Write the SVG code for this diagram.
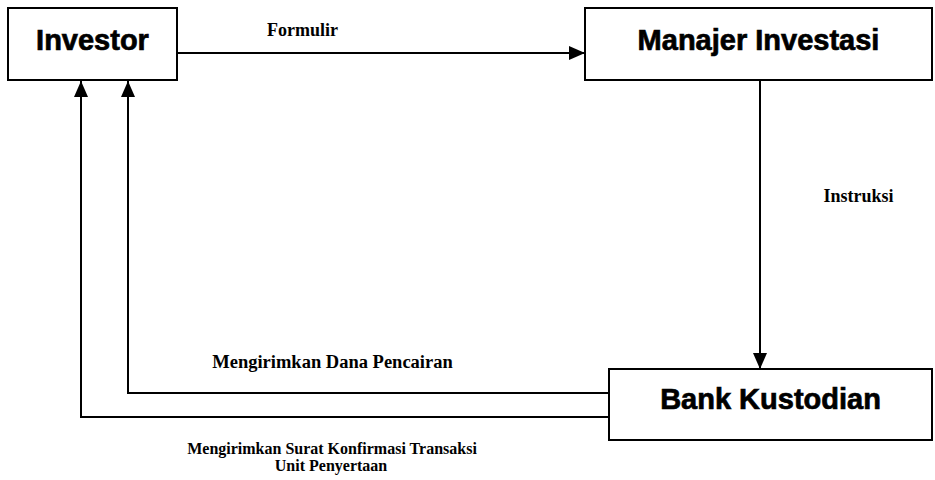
<svg xmlns="http://www.w3.org/2000/svg" width="935" height="480" viewBox="0 0 935 480">
<style>
.box{fill:#fff;stroke:#000;stroke-width:2}
.nt{font-family:"Liberation Sans",Arial,sans-serif;font-weight:bold;font-size:29px;text-anchor:middle;fill:#000;stroke:#000;stroke-width:0.7}
.lb{font-family:"Liberation Serif","Times New Roman",serif;font-weight:bold;fill:#000}
.ln{fill:none;stroke:#000;stroke-width:2}
</style>
<defs>
<marker id="ah" viewBox="0 0 16 14" refX="16" refY="7" markerWidth="16" markerHeight="14" markerUnits="userSpaceOnUse" orient="auto">
<path d="M0,0 L16,7 L0,14 Z" fill="#000"/>
</marker>
</defs>
<rect width="935" height="480" fill="#fff"/>
<g id="connectors">
<line class="ln" x1="177" y1="53" x2="585" y2="53" marker-end="url(#ah)"/>
<line class="ln" x1="760" y1="81" x2="760" y2="369" marker-end="url(#ah)"/>
<polyline class="ln" points="609,393 128,393 128,81" marker-end="url(#ah)"/>
<polyline class="ln" points="609,417 81,417 81,81" marker-end="url(#ah)"/>
</g>
<g id="labels">
<text class="lb" x="302.5" y="36" font-size="18" text-anchor="middle">Formulir</text>
<text class="lb" x="858.5" y="202" font-size="18" text-anchor="middle">Instruksi</text>
<text class="lb" x="332.5" y="368" font-size="18.5" text-anchor="middle">Mengirimkan Dana Pencairan</text>
<text class="lb" x="332" y="454" font-size="16" text-anchor="middle">Mengirimkan Surat Konfirmasi Transaksi</text>
<text class="lb" x="331" y="471" font-size="16" text-anchor="middle">Unit Penyertaan</text>
</g>
<g id="investor">
<rect class="box" x="8" y="8" width="169" height="72"/>
<text class="nt" x="92.5" y="50">Investor</text>
</g>
<g id="manajer-investasi">
<rect class="box" x="585" y="8" width="347" height="72"/>
<text class="nt" x="758.5" y="50">Manajer Investasi</text>
</g>
<g id="bank-kustodian">
<rect class="box" x="609" y="369" width="323" height="71"/>
<text class="nt" x="770.5" y="409">Bank Kustodian</text>
</g>
</svg>
